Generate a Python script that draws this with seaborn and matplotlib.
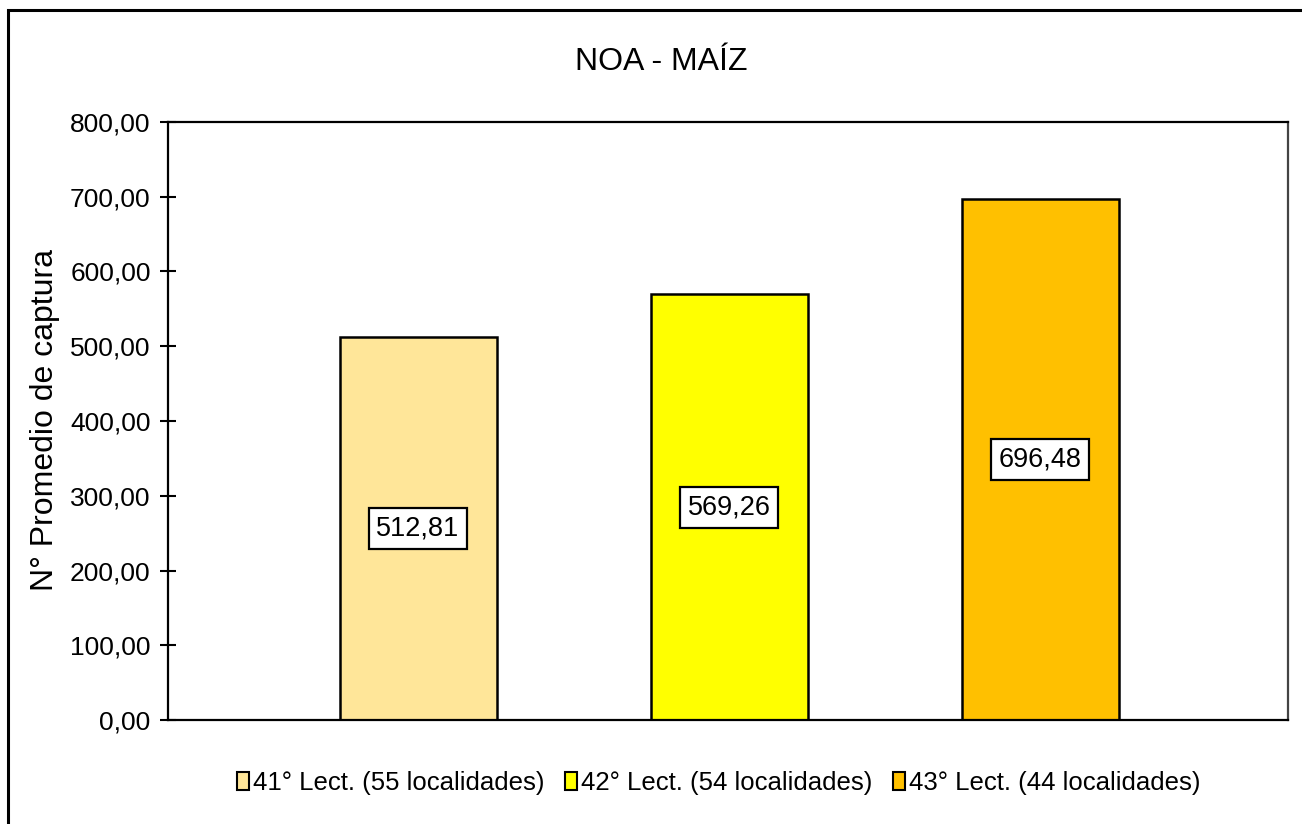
import matplotlib.pyplot as plt
import seaborn as sns
from matplotlib.patches import Patch, Rectangle
from matplotlib.ticker import FuncFormatter, MultipleLocator

# data
lecturas = ["41° Lect. (55 localidades)", "42° Lect. (54 localidades)", "43° Lect. (44 localidades)"]
promedios = [512.81, 569.26, 696.48]
colores = ["#FFE699", "#FFFF00", "#FFC000"]

titulo = "NOA - MAÍZ"
ylabel = "N° Promedio de captura"

sns.set_theme(style="white")
plt.rcParams["font.family"] = ["Liberation Sans", "DejaVu Sans"]
plt.rcParams["text.color"] = "black"
plt.rcParams["ytick.color"] = "black"


def coma(v, _pos=None):
    return f"{v:.2f}".replace(".", ",")


fig = plt.figure(figsize=(13.02, 8.24), dpi=100)
ax = fig.add_axes([168 / 1302, 1 - 720 / 824, (1288 - 168) / 1302, (720 - 122) / 824])

sns.barplot(x=lecturas, y=promedios, hue=lecturas, palette=colores, dodge=False,
            width=0.505, edgecolor="black", linewidth=1.8, saturation=1,
            legend=False, ax=ax)

ax.set_xlim(-0.804, 2.797)
ax.set_ylim(0, 800)
ax.yaxis.set_major_locator(MultipleLocator(100))
ax.yaxis.set_major_formatter(FuncFormatter(coma))
ax.set_xticks([])
ax.set_xlabel("")
ax.set_ylabel("")
ax.tick_params(axis="y", direction="inout", length=11, width=1.5, pad=7,
               labelsize=19, colors="black", left=True)
for s in ax.spines.values():
    s.set_visible(True)
    s.set_color("black")
    s.set_linewidth(1.6)
ax.spines["right"].set_color("#444444")

# etiquetas de datos
for i, v in enumerate(promedios):
    ax.text(i, v / 2, coma(v), ha="center", va="center", fontsize=19.5,
            bbox=dict(boxstyle="square,pad=0.27", fc="white", ec="black", lw=1.6))

fig.text(661 / 1302, 1 - 62 / 824, titulo, ha="center", va="center", fontsize=23)
fig.text(45 / 1302, 1 - 420 / 824, ylabel, rotation=90, ha="center", va="center",
         fontsize=23)

handles = [Patch(facecolor=c, edgecolor="black", linewidth=1.5) for c in colores]
fig.legend(handles, lecturas, loc="center", bbox_to_anchor=(719 / 1302, 1 - 783 / 824),
           ncol=3, frameon=False, fontsize=18.5, handlelength=0.47, handleheight=0.65,
           handletextpad=0.15, columnspacing=0.8, borderaxespad=0)

# marco exterior
fig.patches.append(Rectangle((8 / 1302, -0.2), 1.2, 1 - 10 / 824 + 0.2,
                             transform=fig.transFigure, fill=False, ec="black",
                             lw=2.2, zorder=10))

fig.savefig("out.png", dpi=100)
